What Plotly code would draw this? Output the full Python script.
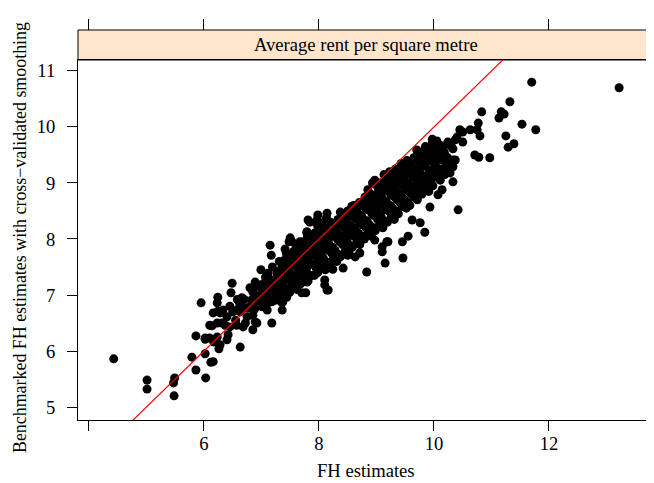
import plotly.graph_objects as go

# ---------------- data ----------------
# sparse points, low end
left_fh = [4.43, 5.01, 5.01, 5.49, 5.47, 5.48, 5.79, 5.86, 5.86, 5.95,
           6.02, 6.03, 6.02, 6.12, 6.16, 6.10, 6.17, 6.14, 6.23, 6.16,
           6.24, 6.24, 6.26, 6.23, 6.49, 6.47, 6.66, 6.28, 6.33, 6.40,
           6.50, 6.57, 6.63, 6.10, 6.31, 6.37, 6.45, 6.57, 6.68, 6.02,
           6.28, 6.40, 6.42, 6.63, 6.23, 6.55, 6.62, 6.70, 6.72, 6.45,
           6.58]
left_bm = [5.86, 5.48, 5.32, 5.52, 5.43, 5.20, 5.89, 5.66, 6.27, 6.86,
           5.95, 5.52, 6.21, 5.80, 5.81, 6.23, 6.16, 6.45, 6.50, 6.68,
           6.71, 6.96, 6.04, 6.86, 7.21, 7.04, 6.95, 6.68, 6.73, 6.61,
           6.70, 6.73, 6.70, 6.46, 6.50, 6.46, 6.43, 6.46, 6.43, 6.23,
           6.11, 6.20, 6.29, 6.07, 6.25, 6.55, 6.85, 6.92, 6.50, 6.80,
           6.92]

# points around FH 6.7 - 7.8
mid_fh = [7.15, 7.17, 7.48, 7.41, 7.67, 7.67, 7.79, 7.62, 7.58, 7.41,
          7.72, 7.79, 7.11, 7.27, 7.32, 7.44, 7.50, 7.62, 7.67, 7.79,
          6.89, 6.94, 7.01, 7.10, 7.18, 7.27, 7.36, 7.44, 6.85, 6.80,
          6.83, 6.80, 6.89, 7.01, 7.10, 7.18, 7.27, 7.36, 7.44, 7.37,
          7.70, 7.77, 6.71, 6.77, 6.75, 6.85, 7.01, 7.10, 7.36, 6.89,
          6.92, 6.85, 7.18, 7.81, 7.79, 7.50]
mid_bm = [7.89, 7.71, 7.95, 7.82, 7.95, 7.80, 7.86, 7.71, 7.59, 7.63,
          7.63, 7.50, 7.39, 7.41, 7.32, 7.39, 7.27, 7.32, 7.23, 7.30,
          7.23, 7.18, 7.05, 7.04, 7.09, 7.13, 7.13, 7.09, 7.05, 7.13,
          6.91, 6.79, 6.88, 6.91, 6.88, 6.88, 6.91, 6.86, 6.96, 6.88,
          7.04, 7.04, 6.77, 6.77, 6.61, 6.64, 6.79, 6.73, 6.73, 6.52,
          6.50, 6.38, 6.50, 8.34, 8.13, 8.02]

# points around FH 7.5 - 9.2
centre_fh = [7.98, 8.14, 7.84, 7.79, 7.93, 8.05, 7.53, 7.55, 8.42, 8.83,
             9.10, 9.15, 9.18, 8.97, 8.71, 8.63, 8.10, 8.14, 8.24, 8.37,
             8.50, 7.84, 7.97, 8.14, 8.24, 7.58, 7.53, 7.79, 8.10, 8.16]
centre_bm = [8.43, 8.46, 8.30, 8.11, 8.11, 8.16, 7.95, 7.75, 7.48, 7.41,
             7.77, 7.57, 7.95, 7.98, 7.75, 7.68, 7.27, 7.09, 7.63, 7.68,
             7.71, 7.34, 7.41, 7.52, 7.46, 7.36, 7.20, 7.23, 7.18, 7.09]

# points at the high end
right_fh = [9.72, 9.97, 10.10, 10.24, 10.02, 10.23, 10.37, 10.33, 10.14, 10.28,
            10.33, 10.14, 10.07, 9.93, 10.42, 9.62, 9.76, 9.84, 9.20, 9.10,
            9.46, 9.45, 9.55, 11.70, 13.22, 11.32, 10.83, 11.17, 11.22, 11.13,
            11.53, 11.77, 10.77, 10.75, 10.80, 11.25, 11.29, 11.39, 10.97, 10.71,
            10.78, 10.63, 10.50, 10.45, 10.40, 10.37, 10.50, 10.16, 10.33, 10.19,
            10.33, 10.19, 9.98, 10.05, 10.30, 9.70]
right_bm = [9.55, 9.71, 9.68, 9.73, 9.54, 9.46, 9.41, 9.29, 9.20, 9.18,
            9.02, 8.88, 8.79, 8.57, 8.52, 8.34, 8.29, 8.12, 7.95, 7.86,
            7.66, 7.95, 8.05, 10.80, 10.70, 10.45, 10.27, 10.27, 10.23, 10.16,
            10.05, 9.95, 10.07, 9.95, 9.84, 9.84, 9.64, 9.70, 9.45, 9.50,
            9.46, 9.95, 9.91, 9.95, 9.82, 9.77, 9.73, 9.64, 9.61, 9.45,
            9.41, 9.27, 9.73, 9.75, 9.66, 9.59]

# dense core of the cloud (first layer)
core_fh = [6.88, 6.93, 6.90,
           7.02, 6.98, 7.03, 6.99,
           7.08, 7.12, 7.09, 7.13,
           7.21, 7.18, 7.22, 7.19,
           7.28, 7.32, 7.29, 7.31,
           7.42, 7.38, 7.41, 7.39, 7.43,
           7.49, 7.52, 7.48, 7.51,
           7.61, 7.58, 7.62, 7.59, 7.60,
           7.68, 7.71, 7.69, 7.72,
           7.81, 7.78, 7.82, 7.79, 7.80,
           7.92, 7.89, 7.91, 7.88, 7.93,
           7.98, 8.02, 8.01, 7.99, 8.03, 7.97,
           8.11, 8.08, 8.12, 8.09, 8.10,
           8.19, 8.22, 8.18, 8.21, 8.20,
           8.31, 8.28, 8.32, 8.29, 8.33,
           8.38, 8.41, 8.42, 8.39, 8.40,
           8.52, 8.49, 8.51, 8.48, 8.50,
           8.58, 8.61, 8.62, 8.59, 8.60,
           8.71, 8.69, 8.72, 8.68, 8.70,
           8.79, 8.82, 8.78, 8.81, 8.80,
           8.91, 8.88, 8.92, 8.89, 8.90, 8.93,
           8.98, 9.02, 9.01, 8.99, 9.03, 8.97,
           9.11, 9.08, 9.12, 9.09, 9.10, 9.13,
           9.19, 9.22, 9.18, 9.21, 9.20, 9.23,
           9.31, 9.28, 9.32, 9.29, 9.30, 9.33,
           9.38, 9.41, 9.42, 9.39, 9.40, 9.43,
           9.52, 9.49, 9.51, 9.48, 9.50, 9.53,
           9.58, 9.61, 9.62, 9.59, 9.60,
           9.71, 9.69, 9.72, 9.68, 9.70,
           9.79, 9.82, 9.78, 9.81, 9.80,
           9.91, 9.88, 9.92, 9.89, 9.90,
           9.98, 10.02, 10.01, 9.99,
           10.11, 10.08, 10.12,
           10.19, 10.22, 10.18]
core_bm = [6.75, 6.95, 7.15,
           6.85, 7.00, 7.20, 7.45,
           6.80, 6.98, 7.12, 7.30,
           6.90, 7.05, 7.25, 7.50,
           6.95, 7.15, 7.35, 7.60,
           7.00, 7.20, 7.40, 7.55, 7.75,
           7.05, 7.25, 7.45, 7.65,
           7.10, 7.35, 7.50, 7.70, 7.90,
           7.20, 7.40, 7.60, 7.78,
           7.25, 7.45, 7.65, 7.85, 8.05,
           7.35, 7.55, 7.72, 7.90, 8.10,
           7.40, 7.60, 7.80, 7.95, 8.15, 8.35,
           7.45, 7.65, 7.85, 8.00, 8.20,
           7.55, 7.75, 7.90, 8.10, 8.30,
           7.60, 7.80, 8.00, 8.15, 8.35,
           7.70, 7.90, 8.05, 8.25, 8.45,
           7.75, 7.95, 8.15, 8.30, 8.50,
           7.85, 8.05, 8.20, 8.40, 8.60,
           7.90, 8.10, 8.30, 8.45, 8.65,
           8.00, 8.20, 8.35, 8.55, 8.75,
           8.05, 8.25, 8.45, 8.60, 8.80, 9.00,
           8.15, 8.35, 8.50, 8.70, 8.90, 9.05,
           8.20, 8.40, 8.60, 8.75, 8.95, 9.15,
           8.30, 8.50, 8.65, 8.85, 9.00, 9.20,
           8.35, 8.55, 8.75, 8.90, 9.10, 9.25,
           8.45, 8.65, 8.80, 9.00, 9.15, 9.35,
           8.55, 8.70, 8.90, 9.05, 9.25, 9.40,
           8.60, 8.80, 8.95, 9.15, 9.30,
           8.70, 8.90, 9.05, 9.20, 9.40,
           8.80, 8.95, 9.15, 9.30, 9.50,
           8.85, 9.05, 9.20, 9.40, 9.60,
           8.95, 9.15, 9.30, 9.50,
           9.05, 9.25, 9.45,
           9.15, 9.35, 9.55]

# dense core of the cloud (second layer, filling the gaps)
fill_fh = [7.06, 7.04, 7.07,
           7.16, 7.14, 7.15,
           7.26, 7.24, 7.27,
           7.34, 7.36, 7.35,
           7.46, 7.44, 7.45, 7.47,
           7.55, 7.57, 7.54, 7.56,
           7.66, 7.64, 7.65, 7.67,
           7.74, 7.76, 7.75, 7.73,
           7.86, 7.84, 7.85, 7.87,
           7.95, 7.96, 7.94, 7.95, 7.97,
           8.06, 8.04, 8.05, 8.07, 8.05,
           8.15, 8.14, 8.16, 8.15, 8.13,
           8.26, 8.24, 8.25, 8.27,
           8.35, 8.36, 8.34, 8.35, 8.37,
           8.46, 8.44, 8.45, 8.46,
           8.55, 8.56, 8.54, 8.55, 8.57,
           8.66, 8.64, 8.65, 8.66,
           8.75, 8.76, 8.74, 8.75,
           8.86, 8.84, 8.85, 8.87, 8.85,
           8.95, 8.96, 8.94, 8.95, 8.97,
           9.06, 9.04, 9.05, 9.07, 9.05,
           9.15, 9.16, 9.14, 9.15, 9.17,
           9.26, 9.24, 9.25, 9.27, 9.25,
           9.35, 9.36, 9.34, 9.35, 9.37,
           9.46, 9.44, 9.45, 9.47, 9.45,
           9.55, 9.56, 9.54, 9.55, 9.57,
           9.66, 9.64, 9.65, 9.67, 9.65,
           9.75, 9.76, 9.74, 9.75, 9.77,
           9.86, 9.84, 9.85, 9.87, 9.85,
           9.95, 9.96, 9.94, 9.95, 9.97,
           10.06, 10.04, 10.05, 10.07,
           10.15, 10.16, 10.14]
fill_bm = [6.92, 7.10, 7.32,
           6.90, 7.05, 7.22,
           6.97, 7.15, 7.38,
           7.05, 7.27, 7.48,
           7.10, 7.30, 7.50, 7.70,
           7.15, 7.35, 7.55, 7.78,
           7.22, 7.45, 7.62, 7.82,
           7.30, 7.52, 7.70, 7.95,
           7.35, 7.55, 7.75, 7.98,
           7.48, 7.68, 7.85, 8.05, 8.25,
           7.52, 7.70, 7.90, 8.08, 8.28,
           7.58, 7.80, 7.98, 8.15, 8.38,
           7.65, 7.85, 8.05, 8.22,
           7.72, 7.95, 8.10, 8.30, 8.48,
           7.80, 8.00, 8.20, 8.38,
           7.88, 8.08, 8.25, 8.45, 8.58,
           7.95, 8.15, 8.35, 8.52,
           8.05, 8.25, 8.42, 8.62,
           8.12, 8.32, 8.52, 8.70, 8.88,
           8.20, 8.42, 8.60, 8.78, 8.98,
           8.28, 8.45, 8.62, 8.82, 9.00,
           8.32, 8.52, 8.68, 8.88, 9.08,
           8.40, 8.60, 8.78, 8.95, 9.15,
           8.50, 8.70, 8.85, 9.05, 9.20,
           8.58, 8.75, 8.95, 9.10, 9.30,
           8.65, 8.85, 9.00, 9.20, 9.38,
           8.75, 8.92, 9.10, 9.25, 9.45,
           8.85, 9.02, 9.22, 9.38, 9.55,
           8.92, 9.10, 9.30, 9.48, 9.65,
           9.05, 9.22, 9.40, 9.60, 9.78,
           9.10, 9.30, 9.42, 9.62,
           9.22, 9.40, 9.58]

x_ticks = [4, 6, 8, 10, 12]
x_tick_labels = ["", "6", "8", "10", "12"]
y_ticks = [5, 6, 7, 8, 9, 10, 11]
y_tick_labels = ["5", "6", "7", "8", "9", "10", "11"]

strip_label = "Average rent per square metre"
x_title = "FH estimates"
y_title = "Benchmarked FH estimates with cross\u2212validated smoothing"

# ---------------- figure ----------------
fh = left_fh + mid_fh + centre_fh + right_fh + core_fh + fill_fh
bm = left_bm + mid_bm + centre_bm + right_bm + core_bm + fill_bm

X_RANGE = [3.809, 13.809]
Y_RANGE = [4.768, 11.196]
FONT = "Liberation Serif, Times New Roman, serif"
FS = 18.6

# the page body has an 8px margin, so the figure is sized/offset to compensate
W, H = 646, 475
ML, MR, MT, MB = 70, 1, 22, 63
plot_w = W - ML - MR           # 575
plot_h = H - MT - MB           # 390
panel_h = 360
panel_top = panel_h / plot_h   # y-domain top (paper)

fig = go.Figure()
fig.add_trace(go.Scatter(x=fh, y=bm, mode="markers",
                         marker=dict(color="black", size=9, line=dict(width=0)),
                         hoverinfo="skip", showlegend=False))
fig.add_trace(go.Scatter(x=X_RANGE, y=X_RANGE, mode="lines",
                         line=dict(color="red", width=1.2),
                         hoverinfo="skip", showlegend=False))
# invisible trace so the top tick axis is drawn
fig.add_trace(go.Scatter(x=[None], y=[None], xaxis="x2", yaxis="y",
                         showlegend=False, hoverinfo="skip"))

axis_common = dict(showgrid=False, zeroline=False, ticks="outside",
                   tickcolor="black", tickwidth=1,
                   tickfont=dict(family=FONT, size=FS, color="black"))

fig.update_layout(
    width=W, height=H,
    margin=dict(l=ML, r=MR, t=MT, b=MB, pad=0),
    paper_bgcolor="white", plot_bgcolor="white",
    xaxis=dict(range=X_RANGE, tickvals=x_ticks, ticktext=x_tick_labels,
               ticklen=10, showline=True, linecolor="black", linewidth=1,
               mirror=True, anchor="y", ticklabelstandoff=-3, **axis_common),
    xaxis2=dict(range=X_RANGE, tickvals=x_ticks, ticktext=x_tick_labels,
                overlaying="x", side="top", anchor="free", position=1,
                ticklen=11, showticklabels=False, showline=False,
                **axis_common),
    yaxis=dict(range=Y_RANGE, tickvals=y_ticks, ticktext=y_tick_labels,
               domain=[0, panel_top], ticklen=10, showline=True,
               linecolor="black", linewidth=1, mirror=True,
               ticklabelstandoff=8, **axis_common),
    shapes=[dict(type="rect", xref="paper", yref="paper",
                 x0=0, x1=1, y0=panel_top, y1=1,
                 fillcolor="#FFE5CC", line=dict(color="black", width=1),
                 layer="below")],
    annotations=[
        dict(text=strip_label, xref="paper", yref="paper",
             x=0.5, y=(panel_top + 1) / 2, xanchor="center", yanchor="middle",
             showarrow=False, font=dict(family=FONT, size=FS, color="black")),
        dict(text=x_title, xref="paper", yref="paper",
             x=0.5, y=-50 / plot_h, xanchor="center", yanchor="middle",
             showarrow=False, font=dict(family=FONT, size=FS, color="black")),
        dict(text=y_title, xref="paper", yref="paper", textangle=-90,
             x=(12 - ML) / plot_w, y=(412 - 230) / plot_h,
             xanchor="center", yanchor="middle", borderpad=0,
             showarrow=False, font=dict(family=FONT, size=17.9, color="black")),
    ],
)

fig.write_html("out.html")
